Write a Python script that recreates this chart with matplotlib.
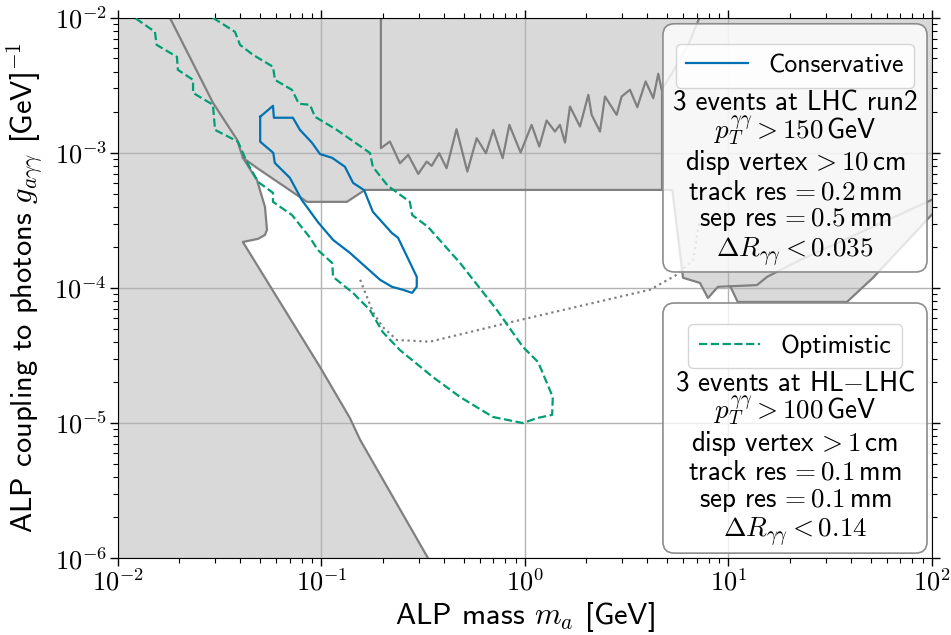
import matplotlib
matplotlib.use('Agg')
import matplotlib.pyplot as plt
from matplotlib.patches import FancyBboxPatch
from matplotlib.lines import Line2D
from matplotlib.ticker import FuncFormatter
import numpy as np

plt.rcParams['font.family'] = 'cmss10'
plt.rcParams['mathtext.fontset'] = 'cm'
plt.rcParams['axes.unicode_minus'] = False
plt.rcParams['axes.formatter.use_mathtext'] = True

# conservative reach (LHC run2)
cons_m = [0.050, 0.0578, 0.0584, 0.0724, 0.0784, 0.0898, 0.0984, 0.1127, 0.1304, 0.143,
          0.162, 0.179, 0.222, 0.238, 0.294, 0.294, 0.279, 0.251, 0.222, 0.194, 0.138,
          0.114, 0.096, 0.080, 0.070, 0.059, 0.058, 0.050, 0.050]
cons_g = [1.85e-3, 2.23e-3, 1.82e-3, 1.82e-3, 1.48e-3, 1.19e-3, 9.8e-4, 9.2e-4, 7.9e-4, 6.0e-4,
          5.3e-4, 3.66e-4, 2.55e-4, 2.35e-4, 1.21e-4, 1.02e-4, 9.2e-5, 9.7e-5, 1.02e-4, 1.15e-4,
          1.82e-4, 2.27e-4, 3.08e-4, 4.49e-4, 6.53e-4, 8.43e-4, 1.0e-3, 1.21e-3, 1.85e-3]

# optimistic reach (HL-LHC)
opt_m = [0.0293, 0.0376, 0.0398, 0.0461, 0.0578, 0.0591, 0.0716, 0.0775, 0.0878, 0.093,
         0.119, 0.173, 0.179, 0.212, 0.272, 0.279, 0.334, 0.480, 0.728, 0.977,
         1.16, 1.37, 1.36, 1.15, 0.977, 0.696, 0.480, 0.353, 0.243, 0.200,
         0.173, 0.143, 0.114, 0.113, 0.096, 0.088, 0.0716, 0.0578, 0.0578, 0.0488,
         0.0430, 0.0389, 0.030, 0.0293, 0.0234, 0.0234, 0.0197, 0.0195, 0.0155, 0.0152, 0.0121]
opt_g = [1e-2, 7.87e-3, 6.3e-3, 5.32e-3, 4.34e-3, 3.47e-3, 2.93e-3, 2.31e-3, 2.27e-3, 1.85e-3,
         1.48e-3, 1.0e-3, 7.87e-4, 5.7e-4, 4.34e-4, 3.47e-4, 2.83e-4, 1.53e-4, 6.87e-5, 3.66e-5,
         2.83e-5, 1.56e-5, 1.15e-5, 1.09e-5, 1.0e-5, 1.11e-5, 1.56e-5, 2.19e-5, 3.47e-5, 4.72e-5,
         6.87e-5, 9.18e-5, 1.21e-4, 1.53e-4, 1.91e-4, 2.35e-4, 3.47e-4, 4.34e-4, 5.06e-4, 6.1e-4,
         8.58e-4, 1.21e-3, 1.48e-3, 2.27e-3, 2.78e-3, 3.47e-3, 4.12e-3, 5.14e-3, 6.3e-3, 7.87e-3, 1e-2]

# existing bounds
left_m = [0.018, 0.0293, 0.0385, 0.0411, 0.0482, 0.0528, 0.054, 0.0528, 0.0488, 0.0411,
          0.0984, 0.138, 0.155, 0.334]
left_g = [1e-2, 2.35e-3, 1.25e-3, 9.2e-4, 6.3e-4, 3.98e-4, 2.69e-4, 2.47e-4, 2.31e-4, 2.19e-4,
          2.6e-5, 1.09e-5, 7.5e-6, 1e-6]

top_m = [0.0411, 0.0482, 0.0849, 0.1334, 0.1637, 5.3, 5.98, 7.24, 7.93, 8.88, 13.8, 15.5, 22.5, 100]
top_g = [9.2e-4, 7.74e-4, 4.34e-4, 4.34e-4, 5.32e-4, 5.32e-4, 1.19e-4, 1.09e-4, 8.43e-5,
         1.02e-4, 1.05e-4, 1.21e-4, 1.61e-4, 4.5e-4]

trap_m = [10.2, 11.1, 38.2, 51.3, 100]
trap_g = [1.03e-4, 7.88e-5, 7.88e-5, 1.19e-4, 3.5e-4]

wig_m = [0.196, 0.196, 0.217, 0.243, 0.267, 0.299, 0.329, 0.348, 0.379, 0.412,
         0.461, 0.521, 0.579, 0.643, 0.699, 0.777, 0.838, 0.952, 1.078, 1.176,
         1.278, 1.404, 1.486, 1.573, 1.664, 1.864, 2.048, 2.127, 2.337, 2.473,
         2.822, 2.987, 3.281, 3.565, 3.918, 4.272, 4.519, 4.695, 5.6, 6.4, 7.2]
wig_g = [1e-2, 1.083e-3, 1.213e-3, 8.38e-4, 9.66e-4, 6.99e-4, 8.62e-4, 8.01e-4, 9.94e-4, 7.7e-4,
         1.497e-3, 7.27e-4, 1.284e-3, 9.94e-4, 1.48e-3, 9.13e-4, 1.612e-3, 1.006e-3, 1.612e-3, 1.114e-3,
         1.736e-3, 1.439e-3, 1.612e-3, 1.193e-3, 2.203e-3, 1.567e-3, 2.69e-3, 1.912e-3, 1.439e-3, 2.615e-3,
         1.912e-3, 2.615e-3, 2.93e-3, 2.18e-3, 3.38e-3, 2.54e-3, 3.85e-3, 2.93e-3, 4.5e-3, 6.5e-3, 1e-2]

edge_m = [4.7, 4.7]
edge_g = [2.93e-3, 5.32e-4]

dot_m = [0.155, 0.179, 0.200, 0.235, 0.341, 0.816, 4.11, 5.46, 6.7, 7.2]
dot_g = [1.15e-4, 6.64e-5, 5.14e-5, 4.12e-5, 4.0e-5, 5.5e-5, 9.7e-5, 1.23e-4, 1.61e-4, 3.2e-4]

cons_text = ['3 events at LHC run2', r'$p_T^{\gamma\gamma} > 150\,$GeV', r'disp vertex$\,> 10\,$cm',
             r'track res$\,= 0.2\,$mm', r'sep res$\,= 0.5\,$mm', r'$\Delta R_{\gamma\gamma} < 0.035$']
opt_text = [r'3 events at HL$-$LHC', r'$p_T^{\gamma\gamma} > 100\,$GeV', r'disp vertex$\,> 1\,$cm',
            r'track res$\,= 0.1\,$mm', r'sep res$\,= 0.1\,$mm', r'$\Delta R_{\gamma\gamma} < 0.14$']

fill_c = '0.85'
line_c = '0.5'
blue = '#0072b2'
green = '#009e73'

fig, ax = plt.subplots(figsize=(9.51, 6.35), dpi=100)
fig.subplots_adjust(left=0.124, right=0.980, bottom=0.121, top=0.972)

ax.fill(left_m + [0.01, 0.01], left_g + [1e-6, 1e-2], color=fill_c, lw=0, zorder=1)
ax.fill(left_m[:4] + top_m[1:] + [100], left_g[:4] + top_g[1:] + [1e-2], color=fill_c, lw=0, zorder=1)
ax.fill_between(trap_m, trap_g, 1e-2, color=fill_c, lw=0, zorder=1)

for xs, ys in [(left_m, left_g), (top_m, top_g), (trap_m, trap_g), (wig_m, wig_g), (edge_m, edge_g)]:
    ax.plot(xs, ys, color=line_c, lw=1.6, zorder=2, solid_joinstyle='round')
ax.plot(dot_m, dot_g, color=line_c, lw=1.6, ls=':', zorder=2)

ax.plot(cons_m, cons_g, color=blue, lw=1.6, zorder=3)
ax.plot(opt_m, opt_g, color=green, lw=1.6, ls='--', zorder=3)

ax.set_xscale('log')
ax.set_yscale('log')
ax.set_xlim(1e-2, 1e2)
ax.set_ylim(1e-6, 1e-2)
dec_fmt = FuncFormatter(lambda v, p: r'$10^{%d}$' % int(round(np.log10(v))))
ax.xaxis.set_major_formatter(dec_fmt)
ax.yaxis.set_major_formatter(dec_fmt)
ax.grid(True, which='major', color='0.7', lw=1.0)
ax.tick_params(which='both', top=True, right=True, labelsize=19)
ax.tick_params(which='major', length=6, width=1, pad=2)
ax.tick_params(which='minor', length=3.5, width=0.8)
ax.set_xlabel(r'ALP mass $m_a$ [GeV]', fontsize=22, labelpad=2)
ax.set_ylabel(r'ALP coupling to photons $g_{a\gamma\gamma}$ [GeV]$^{-1}$', fontsize=22, labelpad=6)

# legend boxes
aspect = 814 / 540
for y0, h in [(0.5296, 0.4593), (0.0093, 0.4629)]:
    box = FancyBboxPatch((0.6695, y0), 0.3244, h, boxstyle='round,pad=0,rounding_size=0.014',
                         mutation_aspect=aspect, transform=ax.transAxes,
                         facecolor=(1, 1, 1, 0.8), edgecolor='0.55', lw=1.2, zorder=5)
    ax.add_patch(box)

h1 = Line2D([], [], color=blue, lw=1.6)
h2 = Line2D([], [], color=green, lw=1.6, ls='--')
leg1 = ax.legend([h1], ['Conservative'], loc='upper center', bbox_to_anchor=(0.8317, 0.975),
                 fontsize=18.5, handlelength=2.4)
leg1.set_zorder(6)
ax.add_artist(leg1)
leg2 = ax.legend([h2], ['Optimistic'], loc='upper center', bbox_to_anchor=(0.832, 0.457),
                 fontsize=18.5, handlelength=2.4)
leg2.set_zorder(6)

for txt, yy in zip(cons_text, [0.8426, 0.7926, 0.7315, 0.6778, 0.6259, 0.5667]):
    ax.text(0.8317, yy, txt, transform=ax.transAxes, ha='center', va='center', fontsize=19.5, zorder=7)
for txt, yy in zip(opt_text, [0.3241, 0.2741, 0.2130, 0.1593, 0.1074, 0.0481]):
    ax.text(0.8317, yy, txt, transform=ax.transAxes, ha='center', va='center', fontsize=19.5, zorder=7)

fig.savefig('out.png', dpi=100)
